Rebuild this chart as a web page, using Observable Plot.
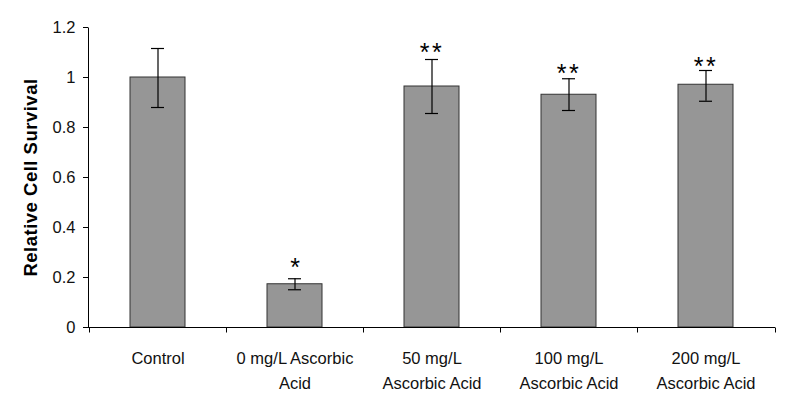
<!DOCTYPE html>
<html>
<head>
<meta charset="utf-8">
<script src="https://cdn.jsdelivr.net/npm/d3@7"></script>
<script src="https://cdn.jsdelivr.net/npm/@observablehq/plot@0.6"></script>
<style>
  html, body { margin: 0; padding: 0; background: #fff; }
  #chart svg { display: block; font-family: "Liberation Sans", Arial, sans-serif; }
</style>
</head>
<body>
<div id="chart"></div>
<script>
const categories = ["Control", "0 mg/L", "50 mg/L", "100 mg/L", "200 mg/L"];
const tickLabels = ["Control", "0 mg/L Ascorbic\nAcid", "50 mg/L\nAscorbic Acid", "100 mg/L\nAscorbic Acid", "200 mg/L\nAscorbic Acid"];
const survival = [1.0, 0.173, 0.964, 0.931, 0.971];
const errLow = [0.88, 0.151, 0.856, 0.868, 0.905];
const errHigh = [1.116, 0.195, 1.072, 0.995, 1.028];
const significance = ["", "*", "**", "**", "**"];
const significanceAt = [null, 0.244, 1.104, 1.02, 1.046];
const yTicks = [0, 0.2, 0.4, 0.6, 0.8, 1, 1.2];
const yLabel = "Relative Cell Survival";

const data = categories.map((c, i) => ({
  cat: c, label: tickLabels[i], value: survival[i], lo: errLow[i], hi: errHigh[i], sig: significance[i], sigAt: significanceAt[i]
}));

function frameLines(index, scales, values, dimensions) {
  const {width, marginLeft, marginRight} = dimensions;
  const y0 = Math.round(scales.y(0)) + 0.5;
  const yTop = Math.round(scales.y(yTicks[yTicks.length - 1])) + 0.5;
  const g = d3.create("svg:g").attr("stroke", "#000").attr("stroke-width", 1);
  const xs = categories.map(c => Math.round(scales.x(c)) + 0.5).concat([Math.round(width - marginRight) + 0.5]);
  g.selectAll("line.bt").data(xs).join("line")
    .attr("x1", d => d).attr("x2", d => d).attr("y1", y0).attr("y2", y0 + 5);
  g.append("line").attr("x1", marginLeft + 0.5).attr("x2", marginLeft + 0.5).attr("y1", yTop).attr("y2", y0);
  return g.node();
}

const chart = Plot.plot({
  width: 800,
  height: 409,
  marginLeft: 88,
  marginRight: 25,
  marginTop: 27,
  marginBottom: 82,
  style: {fontFamily: "'Liberation Sans', Arial, sans-serif", color: "#000", background: "#fff"},
  x: {domain: categories, padding: 0, label: null},
  y: {domain: [0, 1.2], label: null},
  marks: [
    Plot.barY(data, {x: "cat", y: "value", fill: "#969696", stroke: "#333", strokeWidth: 1, insetLeft: 41, insetRight: 41}),
    Plot.ruleX(data, {x: "cat", y1: "lo", y2: "hi", stroke: "#000", strokeWidth: 1.2}),
    Plot.tickY(data, {x: "cat", y: "lo", stroke: "#000", strokeWidth: 1.2, insetLeft: 62, insetRight: 62}),
    Plot.tickY(data, {x: "cat", y: "hi", stroke: "#000", strokeWidth: 1.2, insetLeft: 62, insetRight: 62}),
    Plot.text(data.filter(d => d.sig), {x: "cat", y: "sigAt", text: "sig", lineAnchor: "middle", dy: 1, fontSize: 25, fill: "#000"}),
    Plot.ruleY([0], {stroke: "#000"}),
    Plot.axisY({ticks: yTicks, tickSize: 5, tickPadding: 8, fontSize: 16.5, tickFormat: d => String(+d.toFixed(1)), label: null, stroke: "#000", fill: "#111"}),
    Plot.axisX({tickSize: 0, tickPadding: 19, fontSize: 16.5, lineHeight: 1.5, tickFormat: c => tickLabels[categories.indexOf(c)], label: null, fill: "#111"}),
    Plot.text([yLabel], {frameAnchor: "left", rotate: -90, dx: -51.5, lineAnchor: "bottom", textAnchor: "middle", fontSize: 18.5, fontWeight: "bold", fill: "#000"}),
    frameLines
  ]
});

d3.select(chart).selectAll("text").filter(function() { return this.textContent === "**"; })
  .attr("letter-spacing", "2.5px");
d3.select(chart).selectAll("text").filter(function() { return this.textContent === yLabel; })
  .attr("letter-spacing", "0.5px");

document.getElementById("chart").appendChild(chart);
</script>
</body>
</html>
